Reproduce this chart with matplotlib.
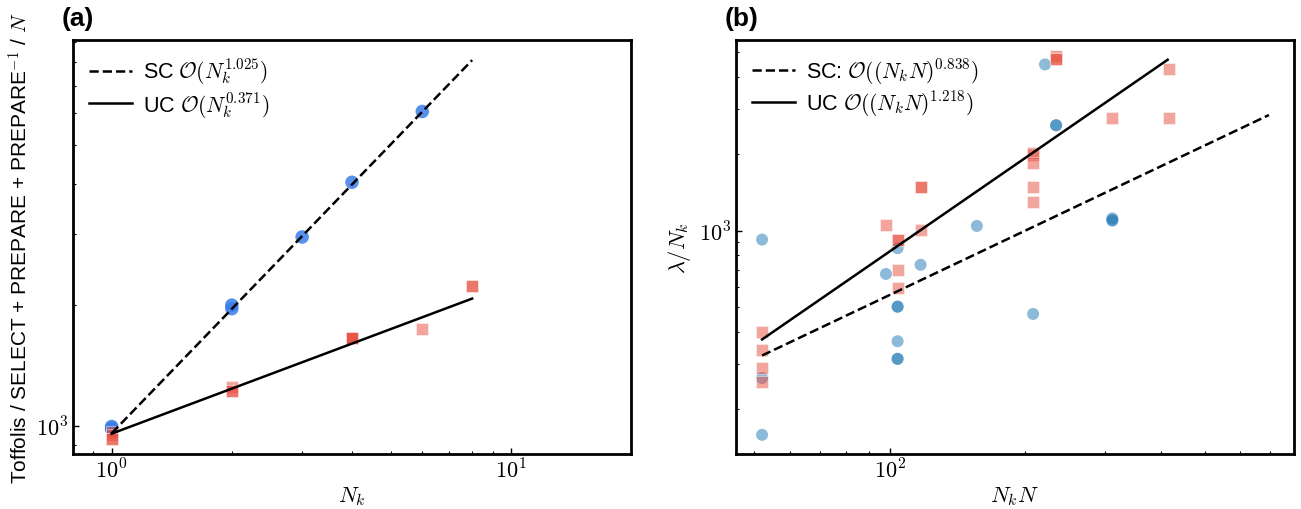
import numpy as np
import matplotlib
matplotlib.use('Agg')
import matplotlib.pyplot as plt
from matplotlib.ticker import FuncFormatter, NullFormatter

# panel (a): Toffoli cost per N against N_k
scNk = [1, 1, 1, 2, 2, 3, 4, 6]
scCost = [1000, 990, 985, 1960, 2000, 2952, 4035, 6046]
ucNk = [1, 1, 1, 1, 2, 2, 2, 4, 4, 4, 4, 6, 8, 8]
ucCost = [969, 950, 931, 931, 1255, 1226, 1226, 1658, 1658, 1658, 1658, 1742, 2228, 2228]
fitNkRange = [1, 8]
scFitA, scFitExp = 962, 1.025
ucFitA, ucFitExp = 960, 0.371

# panel (b): lambda / N_k against N_k N
scNkN = [52, 52, 52, 98, 104, 104, 104, 104, 104, 104, 117, 156, 208, 221, 234, 234, 312, 312, 312]
scLam = [922, 264, 158, 676, 853, 503, 503, 368, 314, 314, 734, 1043, 471, 4487, 2590, 2590, 1094, 1117, 1100]
ucNkN = [52, 52, 52, 52, 98, 104, 104, 104, 104, 117, 117, 117,
         208, 208, 208, 208, 208, 234, 234, 234, 312, 416, 416]
ucLam = [400, 341, 290, 254, 1056, 922, 922, 701, 594, 1487, 1487, 1009,
         1977, 2010, 1845, 1477, 1291, 4834, 4700, 4700, 2775, 4315, 2775]
scFitRangeB = [52, 695]
ucFitRangeB = [52, 414]
scFitAB, scFitExpB = 11.8, 0.838
ucFitAB, ucFitExpB = 3.04, 1.218

plt.rcParams['mathtext.fontset'] = 'cm'
plt.rcParams['font.family'] = ['Liberation Sans', 'DejaVu Sans']

red = '#e74c3c'
blueA = '#3a7ee8'
blueB = '#1f77b4'


def powerLine(a, k, xr):
    x = np.array(xr, dtype=float)
    return x, a * x ** k


def styleAxis(ax):
    ax.set_xscale('log')
    ax.set_yscale('log')
    for s in ax.spines.values():
        s.set_linewidth(2)
    ax.tick_params(which='both', direction='in', top=False, right=False, labelsize=16)
    ax.tick_params(which='major', length=4.5, width=1)
    ax.tick_params(which='minor', length=2.5, width=0.8)
    fmt = FuncFormatter(lambda v, pos: r'$10^{%d}$' % round(np.log10(v)))
    ax.xaxis.set_major_formatter(fmt)
    ax.yaxis.set_major_formatter(fmt)
    ax.xaxis.set_minor_formatter(NullFormatter())
    ax.yaxis.set_minor_formatter(NullFormatter())


fig = plt.figure(figsize=(13.01, 5.10), dpi=100)
axA = fig.add_axes([0.0561, 0.108, 0.4289, 0.8118])
axB = fig.add_axes([0.5657, 0.108, 0.4289, 0.8118])

legendKw = dict(loc='upper left', frameon=False, fontsize=15.5, handlelength=2.0,
                handletextpad=0.5, labelspacing=0.12, borderaxespad=0.35)

# (a)
styleAxis(axA)
axA.scatter(scNk, scCost, s=95, marker='o', color=blueA, alpha=0.85, edgecolors='none', zorder=2)
axA.scatter(ucNk, ucCost, s=85, marker='s', color=red, alpha=0.5, edgecolors='white', linewidths=0.6, zorder=2)
x, y = powerLine(scFitA, scFitExp, fitNkRange)
axA.plot(x, y, 'k--', lw=1.8, zorder=3, label=r'SC $\mathcal{O}(N_k^{1.025})$')
x, y = powerLine(ucFitA, ucFitExp, fitNkRange)
axA.plot(x, y, 'k-', lw=1.8, zorder=3, label=r'UC $\mathcal{O}(N_k^{0.371})$')
axA.set_xlim(0.8, 20)
axA.set_ylim(855, 9100)
axA.set_xlabel(r'$N_k$', fontsize=16, labelpad=1)
axA.set_ylabel(r'Toffolis / SELECT + PREPARE + PREPARE$^{-1}$ / $N$', fontsize=15, labelpad=3)
axA.legend(**legendKw)
axA.text(-0.02, 1.036, '(a)', transform=axA.transAxes, fontsize=19, fontweight='bold', va='baseline')

# (b)
styleAxis(axB)
axB.scatter(scNkN, scLam, s=75, marker='o', color=blueB, alpha=0.5, edgecolors='none', zorder=2)
axB.scatter(ucNkN, ucLam, s=85, marker='s', color=red, alpha=0.5, edgecolors='white', linewidths=0.6, zorder=2)
x, y = powerLine(scFitAB, scFitExpB, scFitRangeB)
axB.plot(x, y, 'k--', lw=1.8, zorder=3, label=r'SC: $\mathcal{O}((N_kN)^{0.838})$')
x, y = powerLine(ucFitAB, ucFitExpB, ucFitRangeB)
axB.plot(x, y, 'k-', lw=1.8, zorder=3, label=r'UC $\mathcal{O}((N_kN)^{1.218})$')
axB.set_xlim(45.5, 790)
axB.set_ylim(133, 5600)
axB.set_xlabel(r'$N_kN$', fontsize=16, labelpad=1)
axB.set_ylabel(r'$\lambda/N_k$', fontsize=16)
axB.legend(**legendKw)
axB.text(-0.02, 1.036, '(b)', transform=axB.transAxes, fontsize=19, fontweight='bold', va='baseline')

fig.savefig('out.png', dpi=100)
